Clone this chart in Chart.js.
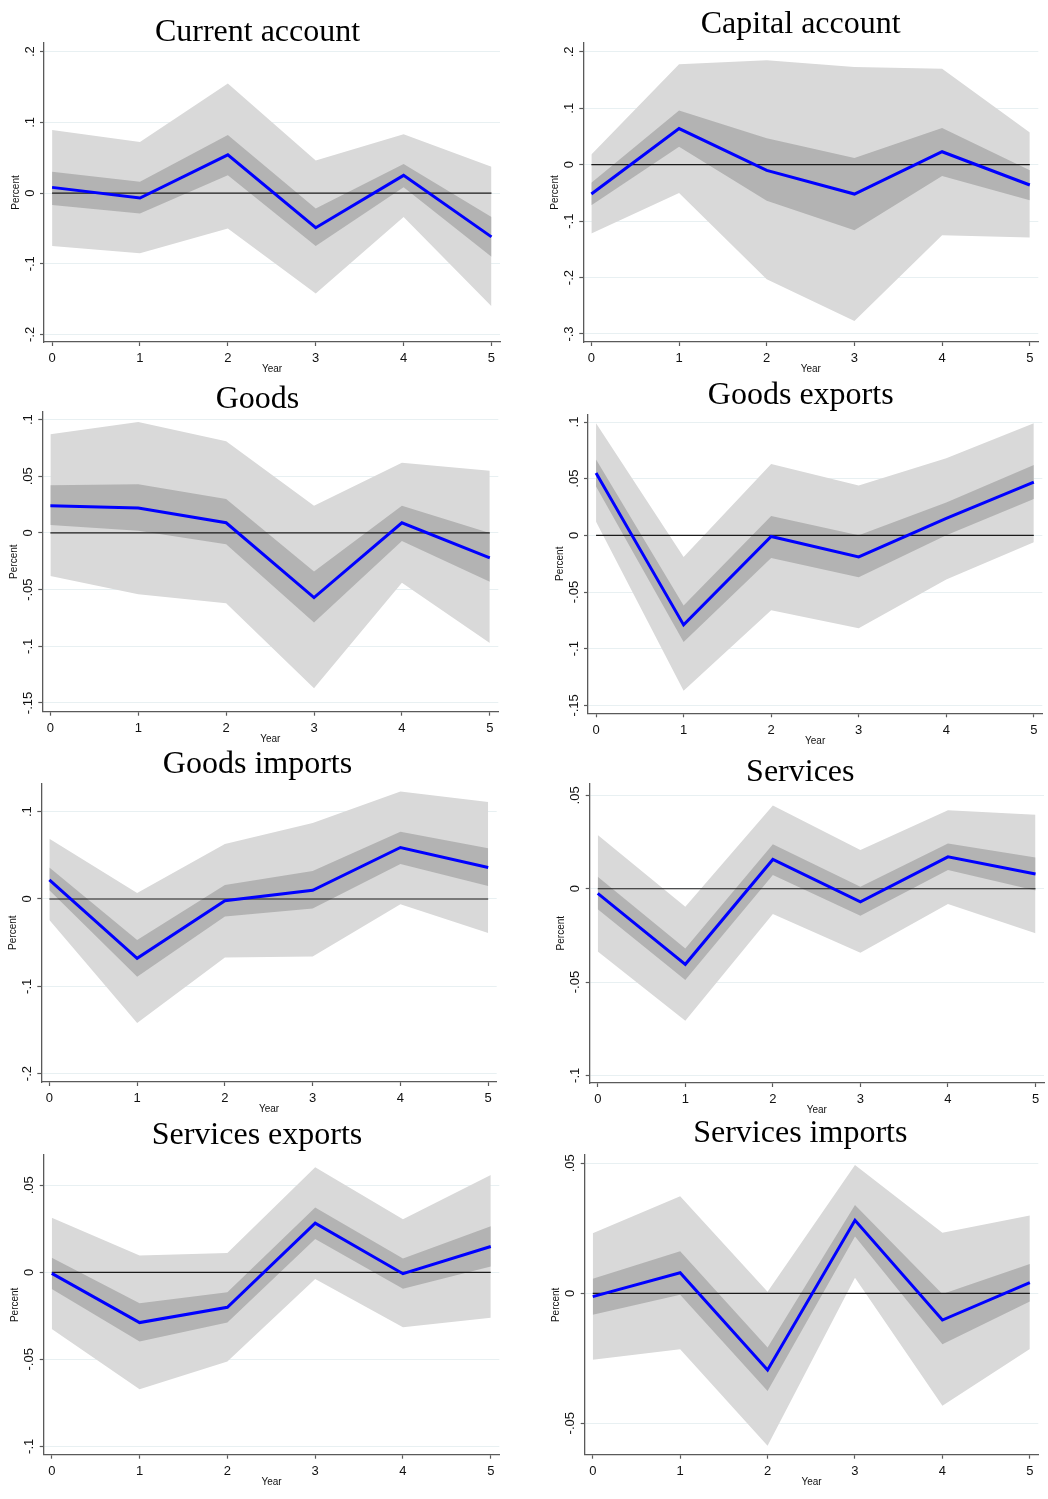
<!DOCTYPE html>
<html>
<head>
<meta charset="utf-8">
<script src="https://cdn.jsdelivr.net/npm/chart.js@4.4.1/dist/chart.umd.min.js"></script>
<style>
  body { margin: 0; background: #fff; }
  #page { position: relative; width: 1048px; height: 1499px; overflow: hidden; }
  #page canvas { position: absolute; }
</style>
</head>
<body>
<div id="page"></div>
<script>
// horizon (years after the shock)
const years = [0, 1, 2, 3, 4, 5];

// Current account
const currentMid  = [0.008, -0.007, 0.054, -0.049, 0.025, -0.062];
const currentHi68 = [0.030, 0.016, 0.082, -0.022, 0.041, -0.034];
const currentLo68 = [-0.017, -0.029, 0.025, -0.075, 0.008, -0.090];
const currentHi90 = [0.089, 0.072, 0.155, 0.046, 0.083, 0.037];
const currentLo90 = [-0.075, -0.085, -0.050, -0.142, -0.034, -0.160];
const currentTicks = [-0.2, -0.1, 0, 0.1, 0.2];

// Capital account
const capitalMid  = [-0.052, 0.064, -0.010, -0.052, 0.023, -0.036];
const capitalHi68 = [-0.032, 0.096, 0.047, 0.012, 0.065, -0.010];
const capitalLo68 = [-0.072, 0.032, -0.064, -0.116, -0.020, -0.063];
const capitalHi90 = [0.018, 0.178, 0.185, 0.173, 0.170, 0.057];
const capitalLo90 = [-0.122, -0.050, -0.203, -0.277, -0.125, -0.129];
const capitalTicks = [-0.3, -0.2, -0.1, 0, 0.1, 0.2];

// Goods
const goodsMid  = [0.024, 0.022, 0.009, -0.057, 0.009, -0.022];
const goodsHi68 = [0.042, 0.043, 0.030, -0.034, 0.024, 0.000];
const goodsLo68 = [0.007, 0.002, -0.010, -0.079, -0.007, -0.043];
const goodsHi90 = [0.087, 0.098, 0.081, 0.024, 0.062, 0.055];
const goodsLo90 = [-0.038, -0.054, -0.062, -0.137, -0.044, -0.097];
const goodsTicks = [-0.15, -0.1, -0.05, 0, 0.05, 0.1];

// Goods exports
const goodsExpMid  = [0.055, -0.079, -0.001, -0.019, 0.015, 0.047];
const goodsExpHi68 = [0.067, -0.062, 0.017, 0.000, 0.029, 0.062];
const goodsExpLo68 = [0.043, -0.094, -0.020, -0.037, 0.000, 0.032];
const goodsExpHi90 = [0.099, -0.019, 0.063, 0.044, 0.068, 0.099];
const goodsExpLo90 = [0.012, -0.137, -0.066, -0.082, -0.039, -0.006];
const goodsExpTicks = [-0.15, -0.1, -0.05, 0, 0.05, 0.1];

// Goods imports
const goodsImpMid  = [0.022, -0.068, -0.002, 0.010, 0.059, 0.036];
const goodsImpHi68 = [0.036, -0.047, 0.016, 0.032, 0.077, 0.058];
const goodsImpLo68 = [0.010, -0.089, -0.020, -0.011, 0.040, 0.015];
const goodsImpHi90 = [0.069, 0.007, 0.063, 0.087, 0.123, 0.111];
const goodsImpLo90 = [-0.024, -0.142, -0.067, -0.066, -0.006, -0.039];
const goodsImpTicks = [-0.2, -0.1, 0, 0.1];

// Services
const servicesMid  = [-0.0025, -0.0405, 0.0157, -0.0070, 0.0171, 0.0079];
const servicesHi68 = [0.0064, -0.0320, 0.0238, 0.0011, 0.0243, 0.0168];
const servicesLo68 = [-0.0110, -0.0489, 0.0073, -0.0145, 0.0100, -0.0009];
const servicesHi90 = [0.0288, -0.0096, 0.0446, 0.0207, 0.0421, 0.0396];
const servicesLo90 = [-0.0336, -0.0707, -0.0136, -0.0343, -0.0082, -0.0239];
const servicesTicks = [-0.1, -0.05, 0, 0.05];

// Services exports
const servExpMid  = [-0.0006, -0.0289, -0.0201, 0.0282, -0.0008, 0.0148];
const servExpHi68 = [0.0084, -0.0178, -0.0115, 0.0372, 0.0080, 0.0264];
const servExpLo68 = [-0.0096, -0.0398, -0.0289, 0.0192, -0.0094, 0.0033];
const servExpHi90 = [0.0314, 0.0096, 0.0111, 0.0603, 0.0305, 0.0559];
const servExpLo90 = [-0.0326, -0.0672, -0.0513, -0.0038, -0.0316, -0.0261];
const servExpTicks = [-0.1, -0.05, 0, 0.05];

// Services imports
const servImpMid  = [-0.0013, 0.0079, -0.0295, 0.0281, -0.0103, 0.0041];
const servImpHi68 = [0.0056, 0.0162, -0.0209, 0.0340, -0.0003, 0.0113];
const servImpLo68 = [-0.0083, -0.0006, -0.0376, 0.0218, -0.0196, -0.0032];
const servImpHi90 = [0.0231, 0.0373, 0.0006, 0.0494, 0.0233, 0.0299];
const servImpLo90 = [-0.0256, -0.0215, -0.0587, 0.0060, -0.0433, -0.0214];
const servImpTicks = [-0.05, 0, 0.05];

// colours / sizes
const BLUE = 'rgb(0,0,255)';
const DARK = 'rgb(179,179,179)';
const LIGHT = 'rgb(217,217,217)';
const GRID = 'rgb(232,240,242)';
const AXIS = '#5a5a5a';
const X_MIN = -0.092, X_MAX = 5.097;
const AXIS_W = 34, AXIS_H = 33.5;

// box = canvas [x, y, w, h]; area = plot [left, right, top, bottom]; page pixels
const panels = [
  { title: 'Current account', mid: currentMid, hi68: currentHi68, lo68: currentLo68, hi90: currentHi90, lo90: currentLo90, ticks: currentTicks,
    box: [0, 0, 524, 380], area: [44, 500, 43, 342], yMin: -0.2107, yMax: 0.2122, tx: 257.5, ty: 40.7 },
  { title: 'Capital account', mid: capitalMid, hi68: capitalHi68, lo68: capitalLo68, hi90: capitalHi90, lo90: capitalLo90, ticks: capitalTicks,
    box: [524, 0, 524, 380], area: [583.3, 1038.3, 43, 342], yMin: -0.3142, yMax: 0.2157, tx: 800.7, ty: 32.7 },
  { title: 'Goods', mid: goodsMid, hi68: goodsHi68, lo68: goodsLo68, hi90: goodsHi90, lo90: goodsLo90, ticks: goodsTicks,
    box: [0, 380, 524, 368], area: [42.3, 498.3, 411.7, 711.7], yMin: -0.1577, yMax: 0.107, tx: 257.5, ty: 408.3 },
  { title: 'Goods exports', mid: goodsExpMid, hi68: goodsExpHi68, lo68: goodsExpLo68, hi90: goodsExpHi90, lo90: goodsExpLo90, ticks: goodsExpTicks,
    box: [524, 380, 524, 368], area: [588, 1042.3, 414.3, 713.3], yMin: -0.157, yMax: 0.1068, tx: 800.7, ty: 404 },
  { title: 'Goods imports', mid: goodsImpMid, hi68: goodsImpHi68, lo68: goodsImpLo68, hi90: goodsImpHi90, lo90: goodsImpLo90, ticks: goodsImpTicks,
    box: [0, 748, 524, 370], area: [41.3, 496.7, 783.3, 1082], yMin: -0.2096, yMax: 0.1325, tx: 257.5, ty: 773.3 },
  { title: 'Services', mid: servicesMid, hi68: servicesHi68, lo68: servicesLo68, hi90: servicesHi90, lo90: servicesLo90, ticks: servicesTicks,
    box: [524, 748, 524, 370], area: [589.7, 1044, 783.3, 1083], yMin: -0.1041, yMax: 0.0565, tx: 800.3, ty: 781 },
  { title: 'Services exports', mid: servExpMid, hi68: servExpHi68, lo68: servExpLo68, hi90: servExpHi90, lo90: servExpLo90, ticks: servExpTicks,
    box: [0, 1118, 524, 381], area: [43.7, 499.3, 1155, 1454.7], yMin: -0.1048, yMax: 0.0674, tx: 257, ty: 1144 },
  { title: 'Services imports', mid: servImpMid, hi68: servImpHi68, lo68: servImpLo68, hi90: servImpHi90, lo90: servImpLo90, ticks: servImpTicks,
    box: [524, 1118, 524, 381], area: [584.7, 1038.3, 1155, 1454.7], yMin: -0.0621, yMax: 0.0532, tx: 800.3, ty: 1141.7 }
];

// Stata style labels: .1, -.05, 0
const fmt = v => (v === 0 ? '0' : String(v).replace('0.', '.'));

// title + vertical y tick labels (Chart.js can't rotate y labels)
const stataText = {
  id: 'stataText',
  afterDraw(chart, args, opts) {
    const ctx = chart.ctx;
    const ys = chart.scales.y;
    ctx.save();
    ctx.fillStyle = '#000';
    ctx.textAlign = 'center';
    ctx.textBaseline = 'alphabetic';
    ctx.font = '32px "Liberation Serif"';
    ctx.fillText(opts.title, opts.x, opts.y);
    ctx.fillStyle = '#111';
    ctx.font = '13px "Liberation Sans"';
    ctx.textBaseline = 'middle';
    opts.ticks.forEach(v => {
      ctx.save();
      ctx.translate(chart.chartArea.left - 14, ys.getPixelForValue(v));
      ctx.rotate(-Math.PI / 2);
      ctx.fillText(fmt(v), 0, 0);
      ctx.restore();
    });
    ctx.restore();
  }
};

const page = document.getElementById('page');

panels.forEach(p => {
  const [cx, cy, cw, ch] = p.box;
  const [L, R, T, B] = p.area;
  const cv = document.createElement('canvas');
  cv.width = cw;
  cv.height = ch;
  cv.style.left = cx + 'px';
  cv.style.top = cy + 'px';
  page.appendChild(cv);

  const pts = arr => years.map((x, i) => ({ x: x, y: arr[i] }));
  const band = (arr, color, fill) => ({
    data: pts(arr), borderColor: 'rgba(0,0,0,0)', borderWidth: 0, pointRadius: 0,
    backgroundColor: color, fill: fill ? '+1' : false, tension: 0
  });

  new Chart(cv, {
    type: 'line',
    data: {
      datasets: [
        { data: pts(p.mid), borderColor: BLUE, borderWidth: 3, pointRadius: 0, fill: false, tension: 0 },
        { data: [{ x: years[0], y: 0 }, { x: years[years.length - 1], y: 0 }],
          borderColor: '#1a1a1a', borderWidth: 1.2, pointRadius: 0, fill: false },
        band(p.hi68, DARK, true),
        band(p.lo68, DARK, false),
        band(p.hi90, LIGHT, true),
        band(p.lo90, LIGHT, false)
      ]
    },
    options: {
      responsive: false,
      animation: false,
      devicePixelRatio: 1,
      layout: { padding: { left: L - cx - AXIS_W, right: cx + cw - R, top: T - cy, bottom: cy + ch - B - AXIS_H } },
      plugins: {
        legend: { display: false },
        tooltip: { enabled: false },
        stataText: { title: p.title, x: p.tx - cx, y: p.ty - cy, ticks: p.ticks }
      },
      scales: {
        x: {
          type: 'linear', min: X_MIN, max: X_MAX,
          afterBuildTicks: s => { s.ticks = years.map(v => ({ value: v })); },
          afterFit: s => { s.height = AXIS_H; },
          grid: { drawOnChartArea: false, tickLength: 4, tickColor: AXIS, tickWidth: 1.2 },
          border: { color: AXIS, width: 1.3 },
          ticks: { padding: 5, color: '#111', font: { family: 'Liberation Sans', size: 13 }, callback: v => String(v) },
          title: { display: true, text: 'Year', padding: 0, color: '#111', font: { family: 'Liberation Sans', size: 10 } }
        },
        y: {
          type: 'linear', min: p.yMin, max: p.yMax,
          afterBuildTicks: s => { s.ticks = p.ticks.map(v => ({ value: v })); },
          afterFit: s => { s.width = AXIS_W; },
          grid: { color: GRID, lineWidth: 1, tickLength: 4, tickColor: AXIS, tickWidth: 1.2 },
          border: { color: AXIS, width: 1.3 },
          ticks: { display: false },
          title: { display: true, text: 'Percent', padding: 0, color: '#111', font: { family: 'Liberation Sans', size: 10 } }
        }
      }
    },
    plugins: [stataText]
  });
});
</script>
</body>
</html>
